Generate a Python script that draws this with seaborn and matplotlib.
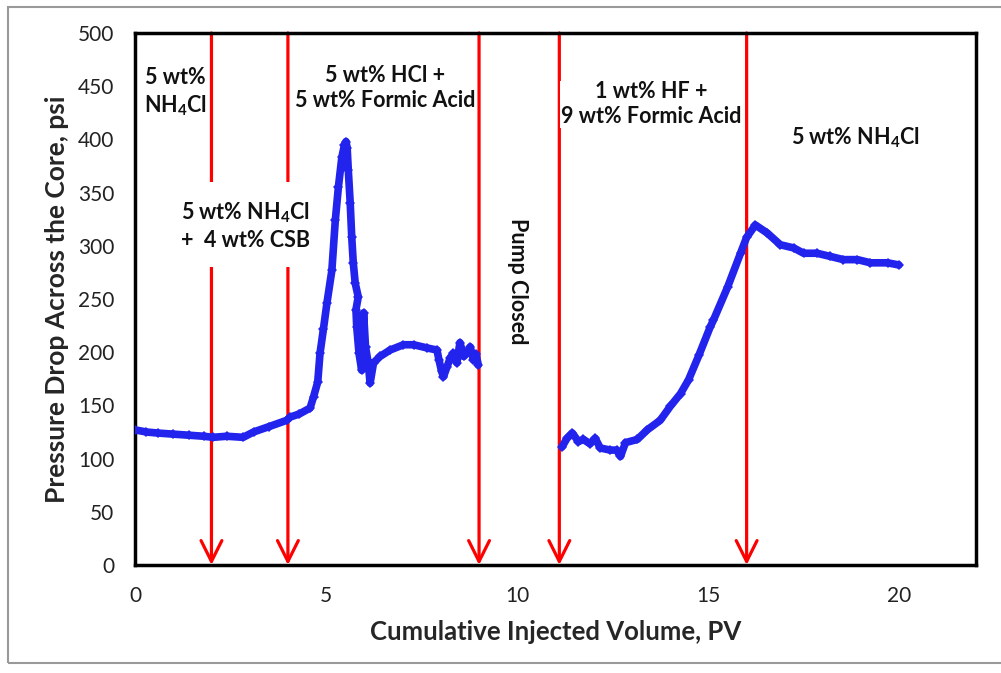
import matplotlib
matplotlib.use("Agg")
import matplotlib.pyplot as plt
import seaborn as sns
import pandas as pd
from matplotlib.ticker import MultipleLocator
from matplotlib.patches import Rectangle

# ---- data ----
pv_before = [0.0, 0.3, 0.6, 1.0, 1.4, 1.8, 2.04, 2.4, 2.83, 3.1, 3.5, 3.97, 4.06, 4.3, 4.58,
             4.67, 4.78, 4.84, 4.93, 5.02, 5.15, 5.24, 5.32, 5.41, 5.48, 5.52,
             5.55, 5.58, 5.63, 5.67, 5.71, 5.76, 5.84, 5.78, 5.8, 5.86, 5.93, 5.98, 6.03, 6.1,
             6.15, 6.24, 6.41, 6.67, 7.02, 7.29, 7.64, 7.9, 7.95, 8.02, 8.07, 8.16, 8.25, 8.33,
             8.42, 8.5, 8.6, 8.68, 8.77, 8.85, 8.92, 8.98]
dp_before = [127, 125, 124, 123, 122, 121, 120, 121, 120, 125, 130, 136, 139, 142, 147.5,
             158, 172, 199, 222, 246, 277, 324, 355, 383, 395, 398,
             392, 371, 340, 308, 284, 265, 252, 240, 224, 199, 183, 237, 205, 190,
             171, 190, 196, 202, 207, 207, 204, 202, 193, 182, 177, 186, 195, 199,
             190, 209, 196, 199, 205, 193, 198, 188]

pv_after = [11.17, 11.3, 11.44, 11.6, 11.73, 11.9, 12.04, 12.17, 12.43, 12.6, 12.7, 12.83,
            13.14, 13.4, 13.74, 14.0, 14.27, 14.48, 14.75, 15.05, 15.13, 15.5, 15.84, 16.0,
            16.23, 16.54, 16.88, 17.23, 17.49, 17.84, 18.19, 18.53, 18.9, 19.24, 19.69, 19.98]
dp_after = [111, 119, 124, 116, 118, 114, 119, 110, 108, 108, 102, 115,
            118, 127, 136, 149, 161, 174, 197, 224, 230, 261, 293, 308,
            319.5, 312, 301, 298, 293, 293, 290, 287, 287, 284, 284, 282]

arrow_pv = [2, 4, 9, 11.1, 16]

x_ticks = [0, 5, 10, 15, 20]
y_ticks = [0, 50, 100, 150, 200, 250, 300, 350, 400, 450, 500]

labels = ["5 wt%\nNH$_\\mathbf{4}$Cl",
          "5 wt% NH$_\\mathbf{4}$Cl\n+  4 wt% CSB",
          "5 wt% HCl +\n5 wt% Formic Acid",
          "Pump Closed",
          "1 wt% HF +\n9 wt% Formic Acid",
          "5 wt% NH$_\\mathbf{4}$Cl"]
label_pos = [(1.05, 444), (2.88, 319), (6.54, 448), (10.0, 267), (13.5, 433), (18.85, 402)]
label_rot = [0, 0, 0, 270, 0, 0]
label_pad = [1, 12, 0.5, 2, 0.5, 2]

# ---- figure ----
sns.set_style("white")
plt.rcParams['font.family'] = ['Lato', 'DejaVu Sans']
plt.rcParams['mathtext.fontset'] = 'custom'
plt.rcParams['mathtext.rm'] = 'Lato'
plt.rcParams['mathtext.bf'] = 'Lato:bold'

fig = plt.figure(figsize=(10.01, 6.73), dpi=100)
ax = fig.add_axes([135 / 1001, 1 - 565 / 673, 841 / 1001, 532 / 673])

fig.patches.append(Rectangle((8 / 1001, 1 - 663 / 673), 1.1, 656 / 673, transform=fig.transFigure,
                             fill=False, edgecolor='#999999', lw=1.5, zorder=0))

blue = '#2323EE'
df1 = pd.DataFrame({'pv': pv_before, 'dp': dp_before})
df2 = pd.DataFrame({'pv': pv_after, 'dp': dp_after})
for d in (df1, df2):
    sns.lineplot(data=d, x='pv', y='dp', sort=False, ax=ax, color=blue, lw=5.5,
                 marker='D', markersize=5, markeredgewidth=0, zorder=3)

for xv in arrow_pv:
    ax.annotate('', xy=(xv, 0), xytext=(xv, 500),
                arrowprops=dict(arrowstyle='->,head_length=0.6,head_width=0.3', color='#FF0000',
                                lw=2.3, mutation_scale=25, shrinkA=0, shrinkB=0),
                zorder=2, annotation_clip=False)

for txt, (xv, yv), rot, pd_ in zip(labels, label_pos, label_rot, label_pad):
    ax.text(xv, yv, txt, ha='center', va='center', rotation=rot, fontsize=15.5,
            fontweight='bold', color='#111111', linespacing=1.25, zorder=5,
            bbox=dict(facecolor='white', edgecolor='none', pad=pd_))

ax.set_xlim(0, 22)
ax.set_ylim(0, 500)
ax.set_xticks(x_ticks)
ax.set_yticks(y_ticks)
ax.xaxis.set_minor_locator(MultipleLocator(1))
ax.yaxis.set_minor_locator(MultipleLocator(10))
ax.tick_params(which='both', direction='in', length=4, width=0.8, color='#777777',
               labelsize=15, labelcolor='#222222')
ax.tick_params(axis='x', pad=15)
ax.tick_params(axis='y', pad=15)
for s in ax.spines.values():
    s.set_linewidth(2.5)
    s.set_color('black')

ax.set_xlabel('Cumulative Injected Volume, PV', fontsize=18.5, fontweight='bold', labelpad=10)
ax.set_ylabel('Pressure Drop Across the Core, psi', fontsize=19, fontweight='bold', labelpad=6)

fig.savefig('out.png', dpi=100)
